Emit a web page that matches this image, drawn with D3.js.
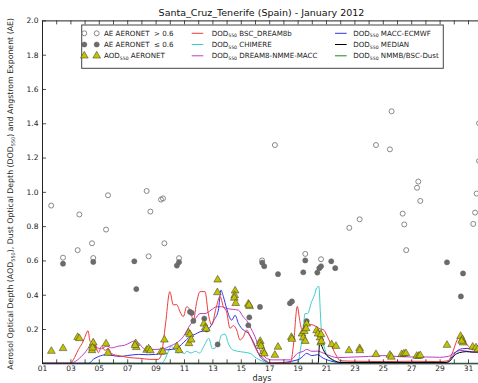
<!DOCTYPE html>
<html>
<head>
<meta charset="utf-8">
<script src="https://cdn.jsdelivr.net/npm/d3@7"></script>
<style>
  html, body { margin: 0; padding: 0; background: #fff; }
  svg { display: block; font-family: "DejaVu Sans", sans-serif; }
</style>
</head>
<body>
<svg id="chart" width="478" height="383"></svg>
<script>
// Dust model DOD550 series: [day of month, value]
const bscDream8b = [[1,0],[3.0,0],[3.2,0.02],[3.56,0.08],[3.91,0.13],[4.1,0.17],[4.24,0.19],[4.38,0.13],[4.5,0.12],[4.61,0.14],[4.8,0.10],[4.97,0.062],[5.2,0.10],[5.44,0.075],[5.67,0.087],[5.9,0.056],[6.49,0.043],[7.19,0.033],[7.9,0.029],[8.6,0.023],[9.19,0.023],[9.4,0.05],[9.7,0.23],[10.0,0.418],[10.25,0.34],[10.48,0.343],[10.72,0.30],[10.95,0.272],[11.19,0.33],[11.43,0.31],[11.66,0.252],[11.9,0.36],[12.13,0.418],[12.48,0.418],[12.71,0.29],[12.95,0.223],[13.25,0.32],[13.54,0.39],[13.77,0.33],[14.0,0.30],[14.24,0.204],[14.47,0.22],[14.71,0.194],[14.94,0.136],[15.18,0.155],[15.41,0.194],[15.65,0.16],[15.88,0.117],[16.24,0.058],[16.6,0.03],[17.0,0.003],[18.5,0.003],[18.7,0.1],[18.98,0.332],[19.15,0.25],[19.29,0.2],[19.45,0.215],[19.7,0.226],[20.0,0.225],[20.3,0.215],[20.6,0.2],[20.8,0.197],[21.09,0.158],[21.4,0.10],[21.75,0.042],[22.0,0.015],[23,0.012],[25,0.01],[27,0.012],[29,0.01],[29.6,0.015],[29.9,0.06],[30.2,0.13],[30.48,0.168],[30.7,0.14],[31.02,0.10],[31.37,0.081],[31.8,0.07]];

const chimere = [[1,0],[9.4,0],[9.7,0.03],[9.9,0.07],[10.1,0.1],[10.3,0.085],[10.6,0.06],[10.8,0.075],[11.0,0.055],[11.2,0.07],[11.5,0.06],[11.8,0.07],[12.1,0.06],[12.4,0.1],[12.75,0.146],[13.0,0.085],[13.2,0.09],[13.45,0.12],[13.65,0.165],[13.9,0.17],[14.1,0.12],[14.4,0.08],[14.8,0.07],[15.2,0.065],[15.65,0.058],[16.1,0.03],[16.6,0.01],[17.0,0.0],[19.0,0.0],[19.2,0.08],[19.4,0.2],[19.52,0.29],[19.7,0.29],[19.99,0.36],[20.2,0.40],[20.34,0.44],[20.5,0.448],[20.6,0.30],[20.7,0.158],[20.93,0.081],[21.1,0.04],[21.4,0.02],[21.8,0.0],[31.8,0.0]];

const dream8NmmeMacc = [[1,0],[3.0,0],[3.5,0.02],[4.0,0.06],[4.38,0.1],[4.6,0.11],[4.9,0.09],[5.2,0.085],[5.55,0.10],[5.9,0.09],[6.37,0.10],[6.8,0.105],[7.2,0.12],[7.5,0.13],[7.8,0.12],[8.1,0.09],[8.37,0.081],[8.96,0.081],[9.55,0.085],[10.0,0.1],[10.5,0.12],[10.95,0.155],[11.42,0.223],[11.8,0.26],[12.13,0.29],[12.48,0.29],[12.9,0.31],[13.3,0.33],[13.66,0.33],[14.0,0.32],[14.4,0.315],[14.83,0.31],[15.18,0.27],[15.41,0.25],[15.65,0.214],[16.0,0.155],[16.35,0.078],[16.8,0.03],[17.2,0.02],[18.5,0.02],[19.0,0.058],[19.4,0.07],[19.64,0.081],[20.0,0.07],[20.4,0.071],[20.8,0.06],[21.4,0.04],[21.8,0.033],[22.5,0.035],[24.0,0.04],[25.0,0.045],[26.0,0.04],[27.0,0.037],[28.0,0.037],[29.0,0.035],[29.6,0.04],[30.0,0.06],[30.5,0.075],[31.0,0.07],[31.5,0.065],[31.8,0.06]];

const maccEcmwf = [[1,0],[4.3,0],[4.61,0.023],[5.0,0.04],[5.5,0.05],[6.0,0.045],[6.5,0.04],[7.0,0.045],[7.8,0.052],[8.5,0.05],[9.0,0.052],[9.4,0.062],[9.66,0.078],[10.0,0.08],[10.48,0.087],[10.95,0.12],[11.42,0.155],[11.8,0.17],[12.13,0.184],[12.48,0.19],[12.83,0.21],[13.1,0.25],[13.42,0.31],[13.6,0.427],[13.77,0.39],[14.0,0.32],[14.36,0.252],[14.6,0.28],[14.83,0.233],[15.18,0.194],[15.53,0.175],[15.88,0.126],[16.35,0.04],[16.8,0.01],[17.2,0.0],[19.0,0.02],[19.3,0.035],[19.64,0.058],[20.0,0.045],[20.4,0.05],[20.8,0.03],[21.5,0.01],[22,0.005],[29.5,0.005],[29.8,0.03],[30.2,0.07],[30.6,0.085],[31.0,0.087],[31.4,0.08],[31.8,0.075]];

const median = [[1,0],[20.45,0],[20.55,0.12],[20.65,0.11],[20.8,0.081],[21.0,0.052],[21.3,0.03],[21.6,0.015],[22.0,0.005],[29.5,0.005],[29.8,0.02],[30.0,0.043],[30.4,0.062],[30.9,0.068],[31.3,0.065],[31.8,0.068]];

const nmmbBscDust = [[1,0],[10,0],[20,0],[31.8,0]];

// AERONET observations: [day of month, value]
const aeHigh = [[1.65,0.92],[2.48,0.616],[3.51,0.66],[3.63,0.868],[4.52,0.70],[4.61,0.614],[5.51,0.78],[5.65,0.98],[8.37,1.005],[8.51,0.624],[8.63,0.885],[9.38,0.955],[9.52,0.962],[9.62,0.70],[10.65,0.613],[16.5,0.60],[17.4,1.273],[19.54,0.638],[20.65,0.607],[22.64,0.79],[23.37,0.84],[24.52,1.273],[25.5,1.248],[25.62,1.47],[26.4,0.873],[26.51,0.81],[26.65,0.66],[27.41,1.024],[27.5,1.06],[27.64,0.947],[31.37,0.813],[31.5,0.879],[31.61,0.99],[31.78,1.40],[31.78,1.18]];

const aeLow = [[2.48,0.581],[4.61,0.591],[7.5,0.595],[7.64,0.433],[10.5,0.57],[10.65,0.59],[11.42,0.30],[11.54,0.294],[11.66,0.247],[12.43,0.261],[12.6,0.197],[13.37,0.11],[15.53,0.222],[15.6,0.268],[16.35,0.329],[16.51,0.587],[16.65,0.566],[17.62,0.52],[18.46,0.35],[18.6,0.361],[19.4,0.531],[19.54,0.60],[19.64,0.246],[20.39,0.529],[20.53,0.555],[20.65,0.566],[21.37,0.595],[21.65,0.555],[29.52,0.589],[30.5,0.39],[30.65,0.524]];

const aod = [[1.66,0.071],[2.48,0.087],[3.51,0.152],[3.63,0.145],[4.52,0.075],[4.54,0.104],[4.61,0.12],[4.56,0.09],[5.51,0.114],[5.65,0.06],[7.6,0.116],[7.64,0.093],[7.55,0.105],[8.37,0.077],[8.51,0.085],[8.63,0.074],[9.38,0.066],[9.52,0.068],[9.62,0.137],[10.5,0.097],[10.65,0.075],[11.33,0.178],[11.35,0.116],[11.42,0.168],[11.51,0.137],[12.4,0.23],[12.5,0.207],[12.57,0.201],[13.37,0.487],[13.35,0.413],[14.6,0.423],[14.57,0.396],[14.54,0.381],[14.64,0.35],[15.53,0.346],[15.62,0.332],[15.58,0.34],[16.37,0.129],[16.35,0.114],[16.42,0.10],[16.59,0.068],[16.66,0.056],[17.4,0.048],[17.62,0.095],[18.56,0.152],[18.6,0.141],[19.31,0.172],[19.4,0.149],[19.47,0.187],[19.54,0.129],[19.64,0.23],[19.6,0.203],[20.34,0.191],[20.44,0.172],[20.58,0.149],[20.63,0.12],[20.65,0.168],[20.67,0.129],[21.4,0.11],[21.7,0.10],[22.62,0.075],[23.37,0.087],[23.38,0.075],[24.52,0.052],[25.5,0.048],[25.6,0.037],[26.33,0.052],[26.49,0.056],[26.63,0.058],[27.39,0.042],[27.53,0.042],[27.64,0.046],[29.52,0.106],[30.48,0.158],[30.6,0.139],[30.66,0.12],[30.55,0.13],[31.33,0.095],[31.56,0.091],[31.7,0.081]];

const dayTicks = d3.range(1, 32);
const yTicks = [0.2, 0.4, 0.6, 0.8, 1.0, 1.2, 1.4, 1.6, 1.8, 2.0];

const models = [
  { name: "NMMB/BSC-Dust", data: nmmbBscDust, color: "#1a8a1a" },
  { name: "CHIMERE", data: chimere, color: "#3ccccc" },
  { name: "DREAM8-NMME-MACC", data: dream8NmmeMacc, color: "#c23cc2" },
  { name: "MACC-ECMWF", data: maccEcmwf, color: "#3333e6" },
  { name: "BSC_DREAM8b", data: bscDream8b, color: "#ee3a3a" },
  { name: "MEDIAN", data: median, color: "#000000" }
];

const svg = d3.select("#chart");
const x = d3.scaleLinear().domain([1, 32]).range([42, 482.2]);
const y = d3.scaleLinear().domain([0, 2]).range([363.3, 20.4]);

svg.append("defs").append("clipPath").attr("id", "plotClip")
  .append("rect").attr("x", 42).attr("y", 20.4).attr("width", 440).attr("height", 343);

// title
svg.append("text").attr("x", 261.5).attr("y", 16).attr("text-anchor", "middle")
  .attr("font-size", 9.5).attr("fill", "#111")
  .text("Santa_Cruz_Tenerife (Spain) - January 2012");

const plot = svg.append("g").attr("clip-path", "url(#plotClip)");

const line = d3.line().x(d => x(d[0])).y(d => y(d[1])).curve(d3.curveMonotoneX);

plot.selectAll("path.model").data(models).join("path")
  .attr("class", "model")
  .attr("d", d => line(d.data))
  .attr("fill", "none")
  .attr("stroke", d => d.color)
  .attr("stroke-width", 1);

// AE circles
plot.selectAll("circle.aeHigh").data(aeHigh).join("circle")
  .attr("class", "aeHigh")
  .attr("cx", d => x(d[0])).attr("cy", d => y(d[1])).attr("r", 2.5)
  .attr("fill", "none").attr("stroke", "#7a7a7a").attr("stroke-width", 0.9);

plot.selectAll("circle.aeLow").data(aeLow).join("circle")
  .attr("class", "aeLow")
  .attr("cx", d => x(d[0])).attr("cy", d => y(d[1])).attr("r", 2.6)
  .attr("fill", "#6b6b6b").attr("stroke", "#666").attr("stroke-width", 0.5);

// AOD triangles
const tri = d3.symbol().type(d3.symbolTriangle).size(26);
plot.selectAll("path.aod").data(aod).join("path")
  .attr("class", "aod")
  .attr("transform", d => `translate(${x(d[0])},${y(d[1])})`)
  .attr("d", tri)
  .attr("fill", "#c2c200").attr("stroke", "#333").attr("stroke-width", 0.5);

// axes
const fmtDay = d => (d % 2 === 1 ? d3.format("02")(d) : "");
const xAxisB = d3.axisBottom(x).tickValues(dayTicks).tickFormat(fmtDay)
  .tickSizeInner(-4).tickSizeOuter(0).tickPadding(2.5);
const xAxisT = d3.axisTop(x).tickValues(dayTicks).tickFormat("")
  .tickSizeInner(-4).tickSizeOuter(0);
const yAxisL = d3.axisLeft(y).tickValues(yTicks).tickFormat(d3.format(".1f"))
  .tickSizeInner(-4).tickSizeOuter(0).tickPadding(3.5);

function styleAxis(g) {
  g.select(".domain").attr("stroke", "#222").attr("stroke-width", 1);
  g.selectAll(".tick line").attr("stroke", "#222").attr("stroke-width", 0.8);
  g.selectAll(".tick text").attr("fill", "#222").attr("font-size", 7.5)
    .attr("font-family", "DejaVu Sans, sans-serif");
}

svg.append("g").attr("transform", `translate(0,${y(0)})`).call(xAxisB).call(styleAxis);
svg.append("g").attr("transform", `translate(0,${y(2)})`).call(xAxisT).call(styleAxis);
svg.append("g").attr("transform", `translate(${x(1)},0)`).call(yAxisL).call(styleAxis);

// axis titles
svg.append("text").attr("x", 262).attr("y", 380.5).attr("text-anchor", "middle")
  .attr("font-size", 8).attr("fill", "#222").text("days");

function subLabel(sel, parts, size, subSize) {
  parts.forEach(p => {
    if (p.sub) {
      sel.append("tspan").attr("font-size", subSize).attr("dy", size * 0.22).text(p.t);
    } else {
      sel.append("tspan").attr("font-size", size).attr("dy", p.after ? -size * 0.22 : 0).text(p.t);
    }
  });
}

const yTitle = svg.append("text")
  .attr("transform", `translate(13,${(y(0) + y(2)) / 2 + 2}) rotate(-90)`)
  .attr("text-anchor", "middle").attr("fill", "#222").attr("font-size", 7.8);
subLabel(yTitle, [
  { t: "Aerosol Optical Depth (AOD" }, { t: "550", sub: true },
  { t: "), Dust Optical Depth (DOD", after: true }, { t: "550", sub: true },
  { t: ") and Angstrom Exponent (AE)", after: true }
], 7.8, 5);

// legend
const lg = svg.append("g");
lg.append("rect").attr("x", 81.7).attr("y", 25).attr("width", 361.6).attr("height", 43.3)
  .attr("fill", "#fff").attr("stroke", "#444").attr("stroke-width", 1);

const rows = [33.3, 44.5, 55.8];
const col1 = [84.3, 96.7];
col1.forEach(cx => {
  lg.append("circle").attr("cx", cx).attr("cy", rows[0]).attr("r", 2.5)
    .attr("fill", "none").attr("stroke", "#7a7a7a").attr("stroke-width", 0.9);
  lg.append("circle").attr("cx", cx).attr("cy", rows[1]).attr("r", 2.6)
    .attr("fill", "#6b6b6b").attr("stroke", "#666").attr("stroke-width", 0.5);
  lg.append("path").attr("transform", `translate(${cx},${rows[2]})`).attr("d", tri)
    .attr("fill", "#c2c200").attr("stroke", "#333").attr("stroke-width", 0.5);
});

const lfs = 7.1, lsub = 4.6;
function legendText(xp, yp, parts) {
  const t = lg.append("text").attr("x", xp).attr("y", yp + 2.5).attr("fill", "#222").attr("font-size", lfs);
  subLabel(t, parts, lfs, lsub);
}
legendText(104, rows[0], [{ t: "AE AERONET \u00a0> 0.6" }]);
legendText(104, rows[1], [{ t: "AE AERONET \u00a0\u2264 0.6" }]);
legendText(104, rows[2], [{ t: "AOD" }, { t: "550", sub: true }, { t: " AERONET", after: true }]);

const legendModels = [
  { col: 0, row: 0, m: models[4] },
  { col: 0, row: 1, m: models[1] },
  { col: 0, row: 2, m: models[2] },
  { col: 1, row: 0, m: models[3] },
  { col: 1, row: 1, m: models[5] },
  { col: 1, row: 2, m: models[0] }
];
const lineX = [[191.7, 203.3], [335, 346.7]];
const textX = [211.7, 353.3];
legendModels.forEach(e => {
  lg.append("line").attr("x1", lineX[e.col][0]).attr("x2", lineX[e.col][1])
    .attr("y1", rows[e.row]).attr("y2", rows[e.row])
    .attr("stroke", e.m.color).attr("stroke-width", 1);
  legendText(textX[e.col], rows[e.row], [{ t: "DOD" }, { t: "550", sub: true }, { t: " " + e.m.name, after: true }]);
});
</script>
</body>
</html>
